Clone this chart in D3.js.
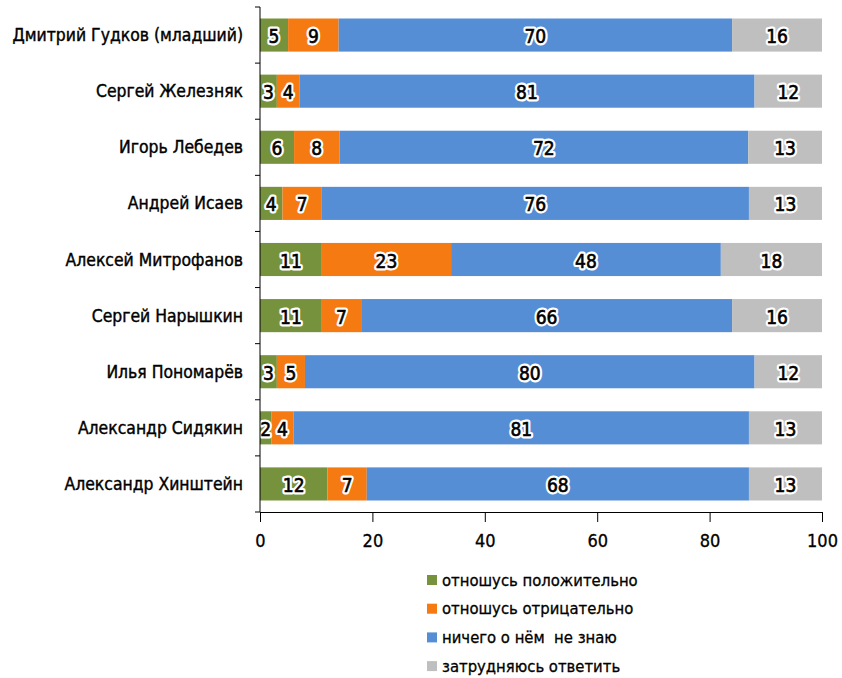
<!DOCTYPE html>
<html><head><meta charset="utf-8">
<script src="https://cdn.jsdelivr.net/npm/d3@7"></script>
<style>
body{margin:0;background:#fff;}
text{font-family:"DejaVu Sans Condensed","DejaVu Sans",sans-serif;white-space:pre;}
</style></head>
<body><svg id="c" width="842" height="678"></svg>
<script>
const categories = ["Дмитрий Гудков (младший)","Сергей Железняк","Игорь Лебедев","Андрей Исаев","Алексей Митрофанов","Сергей Нарышкин","Илья Пономарёв","Александр Сидякин","Александр Хинштейн"];
const seriesNames = ["отношусь положительно","отношусь отрицательно","ничего о нём  не знаю","затрудняюсь ответить"];
const positive = [5,3,6,4,11,11,3,2,12];
const negative = [9,4,8,7,23,7,5,4,7];
const unknown  = [70,81,72,76,48,66,80,81,68];
const undecided= [16,12,13,13,18,16,12,13,13];
const colors = ["#76923C","#F57A12","#558ED5","#BFBFBF"];
const xTicks = [0,20,40,60,80,100];

const keys = ["p","n","u","d"];
const rows = categories.map((c,i)=>({cat:c,p:positive[i],n:negative[i],u:unknown[i],d:undecided[i]}));
const stack = d3.stack().keys(keys).offset(d3.stackOffsetExpand);
const layers = stack(rows);

const svg = d3.select("#c");
const L=260, R=822, T=7, B=512;
const x = d3.scaleLinear().domain([0,1]).range([L,R]);
const y = d3.scaleBand().domain(categories).range([T,B]).paddingInner(0.41).paddingOuter(0.205);

const g = svg.append("g");
layers.forEach((layer,li)=>{
  g.selectAll(null).data(layer).enter().append("rect")
    .attr("x",d=>x(d[0])).attr("width",d=>x(d[1])-x(d[0]))
    .attr("y",d=>y(d.data.cat)).attr("height",y.bandwidth())
    .attr("fill",colors[li]);
});
function labels(halo){
  layers.forEach((layer,li)=>{
    const t = g.selectAll(null).data(layer).enter().append("text")
      .attr("x",d=>(x(d[0])+x(d[1]))/2).attr("y",d=>y(d.data.cat)+y.bandwidth()/2+1)
      .attr("text-anchor","middle").attr("dominant-baseline","central")
      .attr("font-size",19)
      .text(d=>d.data[keys[li]]);
    if(halo) t.attr("fill","#fff").attr("stroke","#fff").attr("stroke-width",5).attr("stroke-linejoin","round");
    else t.attr("fill","#000").attr("stroke","#000").attr("stroke-width",0.6);
  });
}
labels(true); labels(false);

const xs = d3.scaleLinear().domain([0,100]).range([L,R]);
const xa = svg.append("g").attr("transform",`translate(0,${B})`)
  .call(d3.axisBottom(xs).tickValues(xTicks).tickSize(10).tickSizeOuter(0));
xa.select(".domain").attr("stroke","#000");
xa.selectAll(".tick line").attr("stroke","#000");
xa.selectAll(".tick text").attr("font-size",18).attr("dy","1.2em").attr("fill","#000")
  .attr("stroke","#000").attr("stroke-width",0.3).attr("font-family","DejaVu Sans Condensed, DejaVu Sans");

svg.append("line").attr("x1",L).attr("x2",L).attr("y1",T).attr("y2",B).attr("stroke","#000");
const bounds = d3.range(categories.length+1).map(i=>T+i*(B-T)/categories.length);
svg.selectAll(null).data(bounds).enter().append("line")
  .attr("x1",L-5).attr("x2",L).attr("y1",d=>d).attr("y2",d=>d).attr("stroke","#000");
svg.selectAll(null).data(categories).enter().append("text")
  .attr("x",L-17).attr("y",d=>y(d)+y.bandwidth()/2).attr("text-anchor","end")
  .attr("dominant-baseline","central").attr("font-size",17.4).attr("fill","#000")
  .attr("stroke","#000").attr("stroke-width",0.4).text(d=>d);

const lg = svg.append("g");
seriesNames.forEach((s,i)=>{
  const yy = 580+i*28.7;
  lg.append("rect").attr("x",427).attr("y",yy-5).attr("width",10).attr("height",10).attr("fill",colors[i]);
  lg.append("text").attr("x",442).attr("y",yy).attr("dominant-baseline","central").attr("font-size",16.5).attr("fill","#000")
    .attr("stroke","#000").attr("stroke-width",0.3).text(s);
});
</script></body></html>
